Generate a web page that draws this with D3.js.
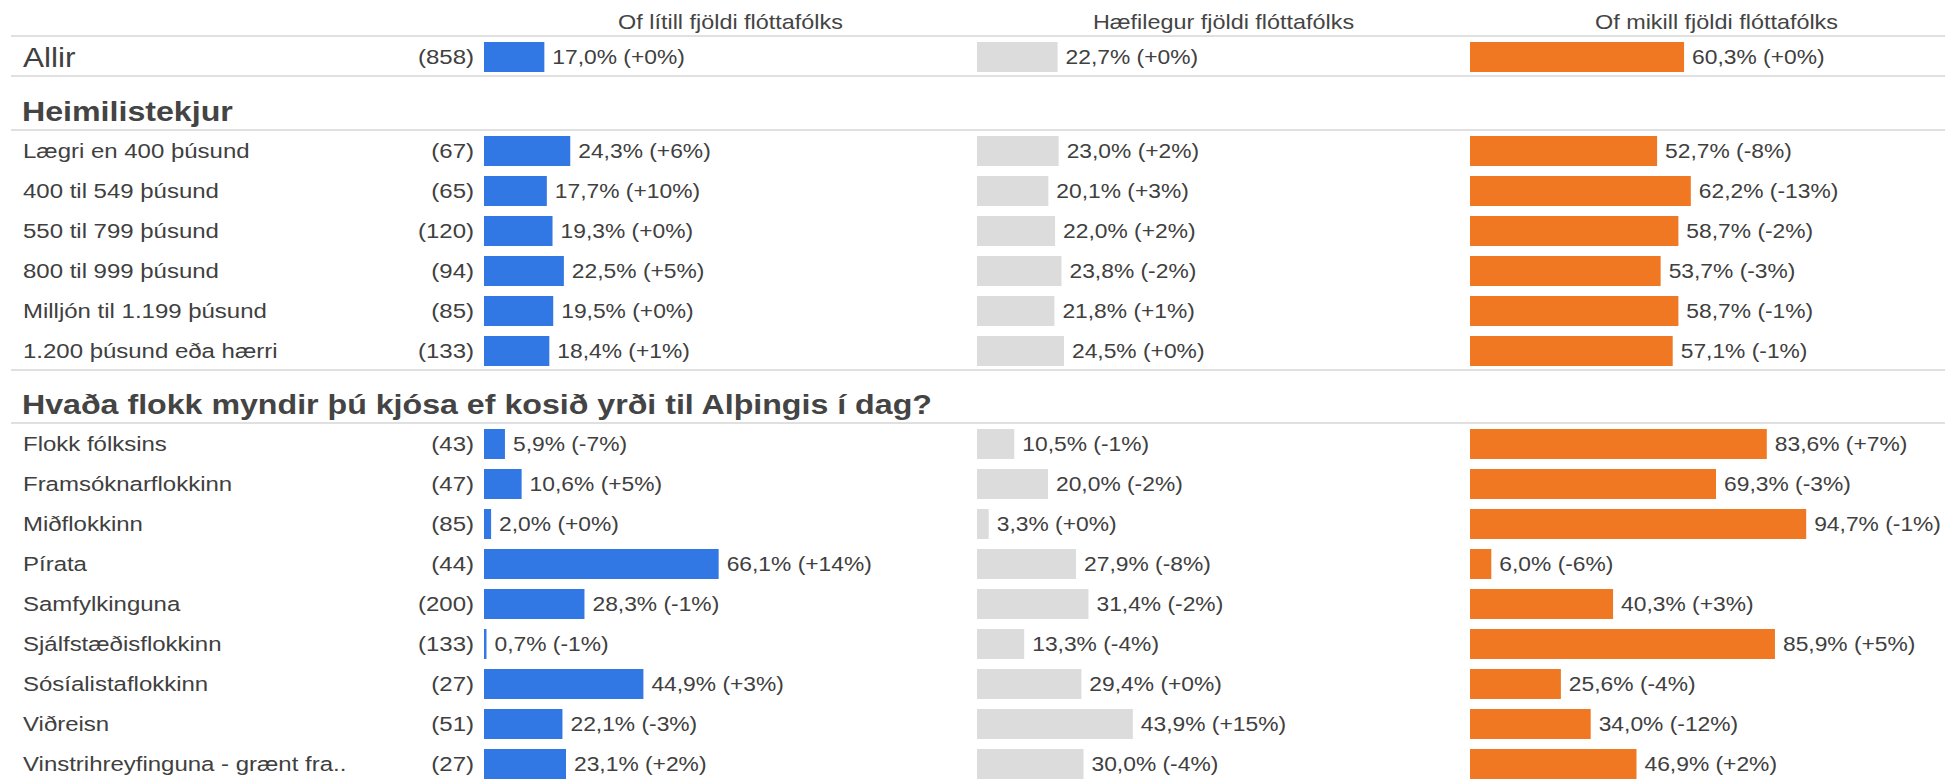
<!DOCTYPE html>
<html>
<head>
<meta charset="utf-8">
<script src="https://cdn.jsdelivr.net/npm/d3@7"></script>
<style>
  body { margin: 0; background: #fff; }
  svg { display: block; font-family: "Liberation Sans", Arial, sans-serif; }
</style>
</head>
<body>
<div id="chart"></div>
<script>
// Column headers (answer options)
const columns = [
  "Of lítill fjöldi flóttafólks",
  "Hæfilegur fjöldi flóttafólks",
  "Of mikill fjöldi flóttafólks"
];

// Total row
const totalLabel = "Allir";
const totalCount = 858;
const totalValues = [17.0, 22.7, 60.3];
const totalChanges = [0, 0, 0];

// Household income
const incomeTitle = "Heimilistekjur";
const incomeLabels = [
  "Lægri en 400 þúsund",
  "400 til 549 þúsund",
  "550 til 799 þúsund",
  "800 til 999 þúsund",
  "Milljón til 1.199 þúsund",
  "1.200 þúsund eða hærri"
];
const incomeCounts = [67, 65, 120, 94, 85, 133];
const incomeValues = [
  [24.3, 23.0, 52.7],
  [17.7, 20.1, 62.2],
  [19.3, 22.0, 58.7],
  [22.5, 23.8, 53.7],
  [19.5, 21.8, 58.7],
  [18.4, 24.5, 57.1]
];
const incomeChanges = [
  [6, 2, -8],
  [10, 3, -13],
  [0, 2, -2],
  [5, -2, -3],
  [0, 1, -1],
  [1, 0, -1]
];

// Party preference
const partyTitle = "Hvaða flokk myndir þú kjósa ef kosið yrði til Alþingis í dag?";
const partyLabels = [
  "Flokk fólksins",
  "Framsóknarflokkinn",
  "Miðflokkinn",
  "Pírata",
  "Samfylkinguna",
  "Sjálfstæðisflokkinn",
  "Sósíalistaflokkinn",
  "Viðreisn",
  "Vinstrihreyfinguna - grænt fra.."
];
const partyCounts = [43, 47, 85, 44, 200, 133, 27, 51, 27];
const partyValues = [
  [5.9, 10.5, 83.6],
  [10.6, 20.0, 69.3],
  [2.0, 3.3, 94.7],
  [66.1, 27.9, 6.0],
  [28.3, 31.4, 40.3],
  [0.7, 13.3, 85.9],
  [44.9, 29.4, 25.6],
  [22.1, 43.9, 34.0],
  [23.1, 30.0, 46.9]
];
const partyChanges = [
  [-7, -1, 7],
  [5, -2, -3],
  [0, 0, -1],
  [14, -8, -6],
  [-1, -2, 3],
  [-1, -4, 5],
  [3, 0, -4],
  [-3, 15, -12],
  [2, -4, 2]
];

const colors = ["#3178e4", "#dcdcdc", "#f07822"];

const W = 1945, H = 779;
// the reference text is a bit wider than plain Arial, so stretch horizontally
const SX = 1.17;
const sx = v => v / SX;

const x = d3.scaleLinear().domain([0, 100]).range([0, sx(355)]);
const col = d3.scaleBand().domain(columns).range([sx(484), sx(484 + 3 * 493)]);

const svg = d3.select("#chart").append("svg")
  .attr("width", W)
  .attr("height", H);

const g = svg.append("g").attr("transform", `scale(${SX},1)`);

// Layout: rows and section headings stacked from the top
const items = [];
let y = 36;
items.push({ type: "row", big: true, label: totalLabel, n: totalCount, values: totalValues, changes: totalChanges, y });
y += 40;
items.push({ type: "head", label: incomeTitle, y, h: 54 });
y += 54;
incomeLabels.forEach((l, i) => {
  items.push({ type: "row", label: l, n: incomeCounts[i], values: incomeValues[i], changes: incomeChanges[i], y });
  y += 40;
});
items.push({ type: "head", label: partyTitle, y, h: 53 });
y += 53;
partyLabels.forEach((l, i) => {
  items.push({ type: "row", label: l, n: partyCounts[i], values: partyValues[i], changes: partyChanges[i], y });
  y += 40;
});

// Column headers
g.selectAll("text.col-head")
  .data(columns)
  .join("text")
  .attr("class", "col-head")
  .attr("x", d => col(d) + col.bandwidth() / 2)
  .attr("y", 29)
  .attr("text-anchor", "middle")
  .attr("font-size", 20)
  .attr("fill", "#444")
  .text(d => d);

// Separator lines
const lineYs = [36];
items.filter(d => d.type === "head").forEach(d => { lineYs.push(d.y, d.y + d.h); });

g.selectAll("line.sep")
  .data(lineYs)
  .join("line")
  .attr("class", "sep")
  .attr("x1", sx(11))
  .attr("x2", sx(W))
  .attr("y1", d => d)
  .attr("y2", d => d)
  .attr("stroke", "#d6d6d6")
  .attr("stroke-width", 1.5);

// Section headings
g.selectAll("text.section")
  .data(items.filter(d => d.type === "head"))
  .join("text")
  .attr("class", "section")
  .attr("x", sx(22))
  .attr("y", d => d.y + d.h - 9)
  .attr("font-size", 27.5)
  .attr("font-weight", "bold")
  .attr("fill", "#444")
  .text(d => d.label);

const fmt = d3.format(".1f");
const valueText = (v, c) => `${fmt(v).replace(".", ",")}% (${c >= 0 ? "+" : ""}${c}%)`;

const rows = g.selectAll("g.row")
  .data(items.filter(d => d.type === "row"))
  .join("g")
  .attr("class", "row")
  .attr("transform", d => `translate(0,${d.y})`);

rows.append("text")
  .attr("x", sx(23))
  .attr("y", d => d.big ? 31 : 28)
  .attr("font-size", d => d.big ? 27 : 20.5)
  .attr("fill", "#404040")
  .text(d => d.label);

rows.append("text")
  .attr("x", sx(474))
  .attr("y", 28)
  .attr("text-anchor", "end")
  .attr("font-size", 20.5)
  .attr("fill", "#404040")
  .text(d => `(${d.n})`);

const cells = rows.selectAll("g.cell")
  .data(d => d.values.map((v, i) => ({ v, c: d.changes[i], key: columns[i], i })))
  .join("g")
  .attr("class", "cell")
  .attr("transform", d => `translate(${col(d.key)},0)`);

cells.append("rect")
  .attr("x", 0)
  .attr("y", 6)
  .attr("height", 30)
  .attr("width", d => x(d.v))
  .attr("fill", d => colors[d.i]);

cells.append("text")
  .attr("x", d => x(d.v) + sx(8))
  .attr("y", 28)
  .attr("font-size", 19.5)
  .attr("fill", "#404040")
  .text(d => valueText(d.v, d.c));
</script>
</body>
</html>
